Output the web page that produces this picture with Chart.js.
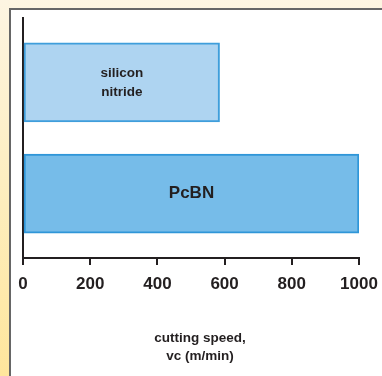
<!DOCTYPE html>
<html>
<head>
<meta charset="utf-8">
<script src="https://cdn.jsdelivr.net/npm/chart.js@4"></script>
<style>
  html, body { margin: 0; padding: 0; }
  body {
    width: 382px; height: 376px; overflow: hidden; position: relative;
    background: linear-gradient(to bottom, #fdf5e2 0%, #fdedbc 55%, #ffe69c 100%);
  }
  #panel {
    position: absolute; left: 9px; top: 8px; width: 373px; height: 368px;
    background: #fff; border-left: 2px solid #666; border-top: 2px solid #666;
    box-sizing: border-box;
  }
  #wrap { position: absolute; left: 1px; top: 1px; width: 371px; height: 366px; }
</style>
</head>
<body>
<div id="panel"><div id="wrap"><canvas id="chart"></canvas></div></div>
<script>
const categories = ["silicon\nnitride", "PcBN"];
const speeds = [585, 1000];
const xTicks = [0, 200, 400, 600, 800, 1000];
const axisTitle = ["cutting speed,", "vc (m/min)"];

const fills = ["#aed4f1", "#76bce9"];
const borders = ["#3f9edb", "#2f96d8"];
const FONT = '"Liberation Sans", Arial, Helvetica, sans-serif';

const barText = {
  id: "barText",
  afterDatasetsDraw(chart) {
    const ctx = chart.ctx;
    const meta = chart.getDatasetMeta(0);
    ctx.save();
    ctx.fillStyle = "#231f20";
    ctx.textAlign = "center";
    ctx.textBaseline = "middle";
    meta.data.forEach((bar, i) => {
      const lines = categories[i].split("\n");
      const size = lines.length > 1 ? 13.5 : 17;
      ctx.font = "bold " + size + "px " + FONT;
      const cx = (bar.base + bar.x) / 2;
      const lh = 19;
      lines.forEach((l, j) => {
        ctx.fillText(l, cx, bar.y + (j - (lines.length - 1) / 2) * lh);
      });
    });
    // axis title
    const a = chart.chartArea;
    ctx.font = "bold 13.5px " + FONT;
    axisTitle.forEach((t, j) => {
      ctx.fillText(t, (a.left + a.right) / 2 + 9, a.bottom + 80 + j * 18);
    });
    ctx.restore();
  }
};

new Chart(document.getElementById("chart"), {
  type: "bar",
  data: {
    labels: categories,
    datasets: [{
      data: speeds.map((v, i) => ({ x: v, y: i + 1 })),
      backgroundColor: fills,
      borderColor: borders,
      borderWidth: 2,
      borderSkipped: false,
      barThickness: 79
    }]
  },
  options: {
    indexAxis: "y",
    responsive: true,
    maintainAspectRatio: false,
    animation: false,
    layout: { padding: { top: 7, left: 0, right: 24, bottom: 0 } },
    plugins: { legend: { display: false }, tooltip: { enabled: false } },
    scales: {
      x: {
        type: "linear",
        min: 0,
        max: 1000,
        afterBuildTicks: s => { s.ticks = xTicks.map(v => ({ value: v })); },
        afterFit: s => { s.height = 119; s.paddingLeft = 0; s.paddingRight = 0; },
        border: { color: "#231f20", width: 2 },
        grid: { drawOnChartArea: false, drawTicks: true, tickLength: 7, color: "#231f20", lineWidth: 2 },
        ticks: {
          color: "#231f20", padding: 9,
          font: { family: FONT, size: 17, weight: "bold" },
          callback: v => String(v)
        }
      },
      y: {
        type: "linear",
        offset: false,
        min: 0.42,
        max: 2.58,
        reverse: true,
        afterFit: s => { s.width = 11; },
        border: { color: "#231f20", width: 2 },
        grid: { display: false, offset: false },
        ticks: { display: false }
      }
    }
  },
  plugins: [barText]
});
</script>
</body>
</html>
